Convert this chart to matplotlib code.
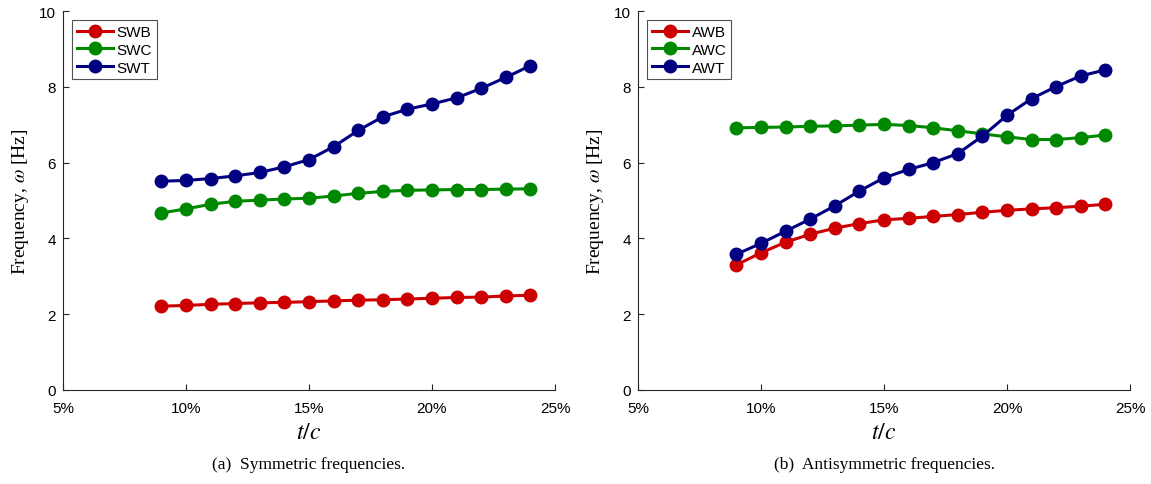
import numpy as np
import matplotlib
matplotlib.use("Agg")
import matplotlib.pyplot as plt
from matplotlib.ticker import FuncFormatter

plt.rcParams['font.family'] = ['Liberation Sans', 'DejaVu Sans']
plt.rcParams['mathtext.fontset'] = 'stix'

tc = [9, 10, 11, 12, 13, 14, 15, 16, 17, 18, 19, 20, 21, 22, 23, 24]

swb = [2.21, 2.23, 2.26, 2.28, 2.30, 2.31, 2.33, 2.35, 2.37, 2.38, 2.40, 2.42, 2.44, 2.45, 2.48, 2.50]
swc = [4.67, 4.78, 4.90, 4.98, 5.01, 5.04, 5.06, 5.12, 5.19, 5.24, 5.27, 5.28, 5.29, 5.29, 5.30, 5.31]
swt = [5.51, 5.53, 5.58, 5.65, 5.74, 5.89, 6.08, 6.42, 6.85, 7.21, 7.41, 7.55, 7.71, 7.96, 8.25, 8.56]

awb = [3.30, 3.62, 3.90, 4.11, 4.27, 4.39, 4.49, 4.53, 4.58, 4.63, 4.69, 4.74, 4.78, 4.81, 4.85, 4.90]
awc = [6.92, 6.93, 6.94, 6.96, 6.97, 6.99, 7.01, 6.98, 6.92, 6.84, 6.76, 6.68, 6.61, 6.61, 6.66, 6.73]
awt = [3.58, 3.87, 4.19, 4.51, 4.86, 5.25, 5.60, 5.82, 6.00, 6.24, 6.70, 7.25, 7.69, 8.01, 8.29, 8.45]

colors = ['#cc0000', '#008800', '#000080']

fig = plt.figure(figsize=(11.51, 4.85), dpi=100)
ax1 = fig.add_axes([0.0547, 0.194, 0.4275, 0.781])
ax2 = fig.add_axes([0.5543, 0.194, 0.4275, 0.781])

panels = [
    (ax1, [swb, swc, swt], ['SWB', 'SWC', 'SWT'], '(a)  Symmetric frequencies.'),
    (ax2, [awb, awc, awt], ['AWB', 'AWC', 'AWT'], '(b)  Antisymmetric frequencies.'),
]

for ax, series, names, caption in panels:
    for vals, name, col in zip(series, names, colors):
        ax.plot(tc, vals, '-o', color=col, lw=2.2, ms=9, label=name)
    ax.set_xlim(5, 25)
    ax.set_ylim(0, 10)
    ax.set_xticks([5, 10, 15, 20, 25])
    ax.set_yticks([0, 2, 4, 6, 8, 10])
    ax.xaxis.set_major_formatter(FuncFormatter(lambda v, p: '%d%%' % v))
    ax.spines['top'].set_visible(False)
    ax.spines['right'].set_visible(False)
    ax.spines['left'].set_color('#262626')
    ax.spines['bottom'].set_color('#262626')
    ax.tick_params(direction='in', length=4, labelsize=11, color='#262626')
    ax.tick_params(axis='x', pad=8)
    ax.tick_params(axis='y', pad=5)
    ax.set_xlabel('$t/c$', fontsize=17, labelpad=4)
    ax.set_ylabel('Frequency, $\\omega$ [Hz]', fontsize=14, family='Liberation Serif', labelpad=6)
    leg = ax.legend(loc='upper left', fontsize=11, fancybox=False, edgecolor='#262626',
                    handlelength=2.4, handletextpad=0.2, borderpad=0.3, labelspacing=0.25,
                    borderaxespad=0.6)
    leg.get_frame().set_linewidth(0.8)
    ax.text(0.5, -0.195, caption, transform=ax.transAxes, ha='center', va='center',
            fontsize=12.5, family='Liberation Serif')

fig.savefig('out.png', dpi=100)
